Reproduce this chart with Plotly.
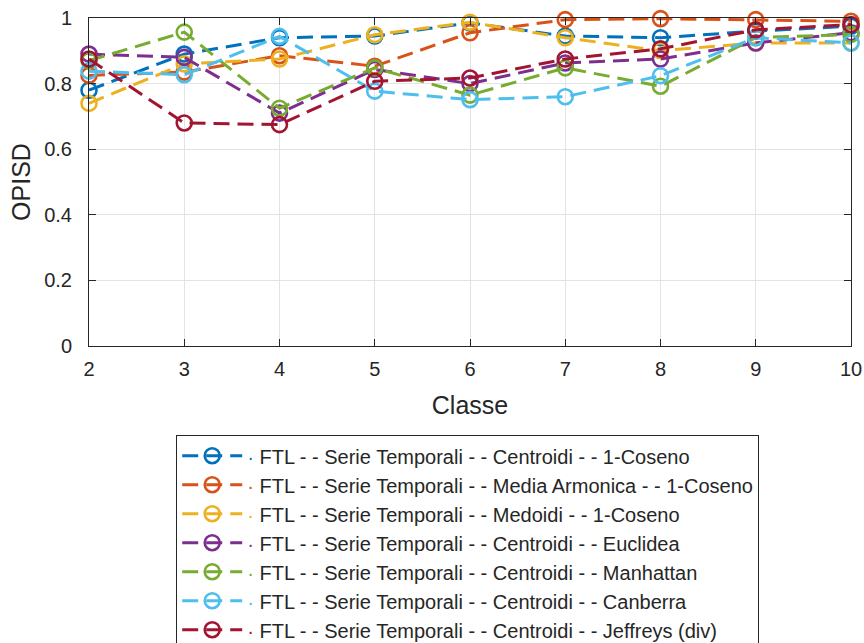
import plotly.graph_objects as go

# Number of classes on the x axis
classi = [2, 3, 4, 5, 6, 7, 8, 9, 10]

# OPISD per configuration
centroidi_coseno = [0.78, 0.89, 0.94, 0.945, 0.985, 0.945, 0.94, 0.96, 0.975]
armonica_coseno = [0.825, 0.835, 0.885, 0.853, 0.955, 0.995, 0.998, 0.995, 0.99]
medoidi_coseno = [0.74, 0.86, 0.875, 0.949, 0.987, 0.94, 0.90, 0.924, 0.924]
centroidi_euclidea = [0.89, 0.88, 0.71, 0.843, 0.80, 0.863, 0.875, 0.924, 0.955]
centroidi_manhattan = [0.87, 0.957, 0.725, 0.848, 0.765, 0.848, 0.792, 0.94, 0.95]
centroidi_canberra = [0.838, 0.827, 0.944, 0.777, 0.751, 0.76, 0.824, 0.94, 0.924]
centroidi_jeffreys = [0.875, 0.68, 0.675, 0.807, 0.817, 0.875, 0.906, 0.964, 0.98]

serie = [
    ("FTL - - Serie Temporali - - Centroidi - - 1-Coseno", centroidi_coseno, "#0072BD"),
    ("FTL - - Serie Temporali - - Media Armonica - - 1-Coseno", armonica_coseno, "#D95319"),
    ("FTL - - Serie Temporali - - Medoidi - - 1-Coseno", medoidi_coseno, "#EDB120"),
    ("FTL - - Serie Temporali - - Centroidi - - Euclidea", centroidi_euclidea, "#7E2F8E"),
    ("FTL - - Serie Temporali - - Centroidi - - Manhattan", centroidi_manhattan, "#77AC30"),
    ("FTL - - Serie Temporali - - Centroidi - - Canberra", centroidi_canberra, "#4DBEEE"),
    ("FTL - - Serie Temporali - - Centroidi - - Jeffreys (div)", centroidi_jeffreys, "#A2142F"),
]

TXT = "#262626"
FONT = "Liberation Sans, Arial, Helvetica, sans-serif"

fig = go.Figure()
for i, (nome, valori, colore) in enumerate(serie):
    fig.add_trace(go.Scatter(
        x=classi, y=valori, mode="lines+markers",
        name=f'<span style="color:{colore}">·</span> {nome}',
        legendgroup=f"g{i}",
        line=dict(color=colore, width=3, dash="16px,8px"),
        marker=dict(symbol="circle-open", size=15, color=colore,
                    line=dict(width=2.6, color=colore)),
        cliponaxis=False,
    ))

axis_common = dict(
    showline=True, linecolor=TXT, linewidth=1, mirror="ticks",
    ticks="inside", ticklen=7, tickcolor=TXT, tickwidth=1,
    showgrid=True, gridcolor="#e3e3e3", gridwidth=1, zeroline=False,
    tickfont=dict(family=FONT, size=20, color=TXT),
)

fig.update_xaxes(range=[2, 10], tickvals=classi, ticktext=[str(c) for c in classi],
                 ticklabelstandoff=5,
                 title=dict(text="Classe", font=dict(family=FONT, size=25, color=TXT), standoff=17),
                 **axis_common)
fig.update_yaxes(range=[0, 1], tickvals=[0, 0.2, 0.4, 0.6, 0.8, 1],
                 ticktext=["0", "0.2", "0.4", "0.6", "0.8", "1"],
                 ticklabelstandoff=12,
                 title=dict(text="OPISD", font=dict(family=FONT, size=25, color=TXT), standoff=6),
                 **axis_common)

fig.update_layout(
    width=864, height=643,
    margin=dict(l=89, r=13, t=18, b=297, autoexpand=False),
    paper_bgcolor="white", plot_bgcolor="white",
    showlegend=True,
    legend=dict(
        x=0.497, y=-0.272, xanchor="center", yanchor="top",
        bordercolor=TXT, borderwidth=1, bgcolor="white",
        font=dict(family=FONT, size=20, color=TXT),
        itemwidth=60, tracegroupgap=0,
    ),
)

fig.write_html("out.html")
